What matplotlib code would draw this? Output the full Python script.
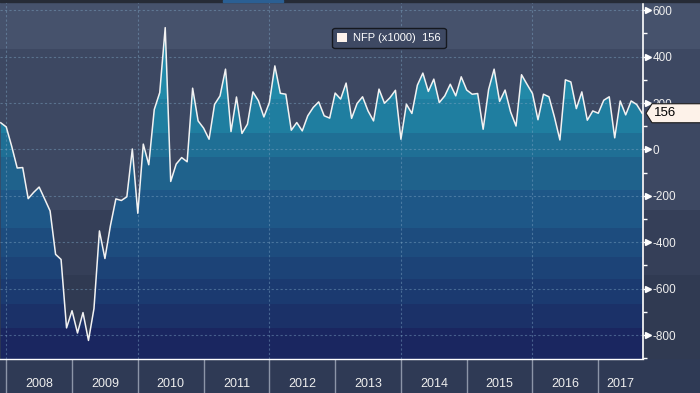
import matplotlib
matplotlib.use("Agg")
import numpy as np
import matplotlib.pyplot as plt
from matplotlib.patches import PathPatch, Polygon, Patch, Rectangle

plt.rcParams['font.family'] = ['Liberation Sans', 'DejaVu Sans']

# monthly change in nonfarm payrolls (thousands), Nov 2007 .. Aug 2017
first_month = (2007, 11)
nfp_change = [
    115, 97,
    13, -80, -78, -212, -185, -162, -213, -265, -452, -474, -769, -695,
    -791, -703, -823, -686, -351, -470, -329, -213, -220, -204, 2, -275,
    23, -66, 172, 245, 525, -138, -63, -35, -53, 264, 123, 92,
    44, 194, 231, 346, 77, 226, 69, 109, 248, 210, 140, 202,
    360, 242, 238, 83, 116, 80, 145, 181, 205, 145, 135, 243,
    217, 286, 134, 198, 227, 166, 123, 260, 199, 223, 255, 44,
    195, 155, 277, 329, 250, 303, 202, 231, 281, 231, 313, 256,
    238, 241, 87, 259, 346, 207, 256, 162, 101, 322, 281, 241,
    128, 238, 227, 140, 41, 300, 291, 176, 248, 126, 166, 156,
    212, 227, 50, 209, 149, 209, 194, 156,
]
years = list(range(2008, 2018))
yticks = [600, 400, 200, 0, -200, -400, -600, -800]
series_label = "NFP (x1000)"
last_value = nfp_change[-1]

# month-end positions in decimal years
x = first_month[0] + first_month[1] / 12 + np.arange(len(nfp_change)) / 12
y = np.array(nfp_change)

xlo, xhi = 2007.905, 2017.68
ylo, yhi = -903, 644

# colour bands (value ranges) for background and the filled area
bg_bands = [(433, yhi, '#46526c'), (-260, 433, '#3d4862'),
            (-540, -260, '#353f58'), (ylo, -540, '#303a52')]
fill_edges = [yhi, 217, 71, -33, -175, -339, -464, -558, -666, -769, ylo]
fill_colors = ['#2289a8', '#1f7ea0', '#1f6f95', '#1f628c', '#1e5787',
               '#1d4c7e', '#1c4377', '#1b3a70', '#1b3168', '#1a2660']

fig = plt.figure(figsize=(7, 3.93), dpi=100, facecolor='#2f3a55')

bg = fig.add_axes([0, 34 / 393, 1, 359 / 393], zorder=0)
bg.set_xlim(0, 1)
bg.set_ylim(ylo, yhi)
bg.axis('off')
for lo, hi, c in bg_bands:
    bg.axhspan(lo, hi, color=c, lw=0)

ax = fig.add_axes([0, 34 / 393, 643 / 700, 359 / 393], zorder=1)
ax.patch.set_alpha(0)

# banded gradient under the line, clipped to the area
under = ax.fill_between(x, y, ylo, facecolor='none', edgecolor='none')
clip = PathPatch(under.get_paths()[0], transform=ax.transData,
                 facecolor='none', edgecolor='none')
ax.add_patch(clip)
for hi, lo, c in zip(fill_edges[:-1], fill_edges[1:], fill_colors):
    span = ax.axhspan(lo, hi, color=c, lw=0, zorder=1)
    span.set_clip_path(clip)

ax.plot(x, y, color='#f2f2f2', lw=1.1, zorder=4)

# dotted grid
for v in yticks:
    ax.axhline(v, color='#7ea6c4', alpha=0.45, lw=0.8, ls=(0, (2, 2)), zorder=2)
for yr in years[::2]:
    ax.axvline(yr, color='#7ea6c4', alpha=0.45, lw=0.8, ls=(0, (2, 2)), zorder=2)

ax.set_xlim(xlo, xhi)
ax.set_ylim(ylo, yhi)

for s in ['top', 'left']:
    ax.spines[s].set_visible(False)
ax.spines['right'].set_color('white')
ax.spines['right'].set_linewidth(1.2)
ax.spines['bottom'].set_color('white')
ax.spines['bottom'].set_linewidth(1.0)

# right value axis
ax.yaxis.tick_right()
ax.set_yticks(yticks)
ax.set_yticklabels([str(v) for v in yticks])
ax.set_yticks(list(range(500, -1000, -200)), minor=True)
ax.tick_params(axis='y', which='major', length=3, width=1, color='white',
               labelcolor='#eeeeee', labelsize=8.5, pad=4, direction='out')
ax.tick_params(axis='y', which='minor', length=3, width=1, color='white',
               direction='out')
ax.plot([1.008] * len(yticks), yticks, marker='>', ls='none', ms=4.5,
        color='white', transform=ax.get_yaxis_transform(), clip_on=False,
        zorder=5)

# bottom year axis: separators at year boundaries, labels centred in each year
label_pos = [(max(yr, xlo) + min(yr + 1, xhi)) / 2 for yr in years]
ax.set_xticks(years)
ax.set_xticklabels([])
ax.set_xticks(label_pos, minor=True)
ax.set_xticklabels([str(yr) for yr in years], minor=True)
ax.tick_params(axis='x', which='major', length=25, width=1, color='#8c95a8',
               direction='out')
ax.tick_params(axis='x', which='minor', length=0, pad=14, labelsize=9,
               labelcolor='#eeeeee')

# legend box
leg = fig.legend(handles=[Patch(facecolor='#fdf3ec', edgecolor='none')],
                 labels=[f"{series_label}  {last_value}"], loc='center',
                 bbox_to_anchor=(389 / 700, 1 - 38 / 393), frameon=True,
                 fancybox=True, facecolor='#3e4963', edgecolor='#15181f',
                 framealpha=1, fontsize=8, labelcolor='white',
                 handlelength=0.9, handleheight=0.9, handletextpad=0.5,
                 borderpad=0.45)
leg.get_frame().set_linewidth(1.0)

# last value tag on the right axis
ypix = ax.transData.transform((xhi, last_value))[1]
fy = ypix / fig.bbox.height
hh = 9.5 / 393
tag = Polygon([(646 / 700, fy), (652 / 700, fy + hh), (1.01, fy + hh),
               (1.01, fy - hh), (652 / 700, fy - hh)], closed=True,
              transform=fig.transFigure, facecolor='#fdf2e9',
              edgecolor='#1c1c1c', lw=0.8, zorder=11)
fig.add_artist(tag)
fig.text(654 / 700, fy, str(last_value), ha='left', va='center', fontsize=9.5,
         color='black', zorder=12)

# thin toolbar strip along the top edge
fig.add_artist(Rectangle((0, 1 - 2 / 393), 1, 2 / 393, transform=fig.transFigure,
                         color='#262b36', zorder=10))
fig.add_artist(Rectangle((223 / 700, 1 - 2 / 393), 60 / 700, 2 / 393,
                         transform=fig.transFigure, color='#2b5f93', zorder=10))

fig.savefig('out.png', dpi=100, facecolor=fig.get_facecolor())
